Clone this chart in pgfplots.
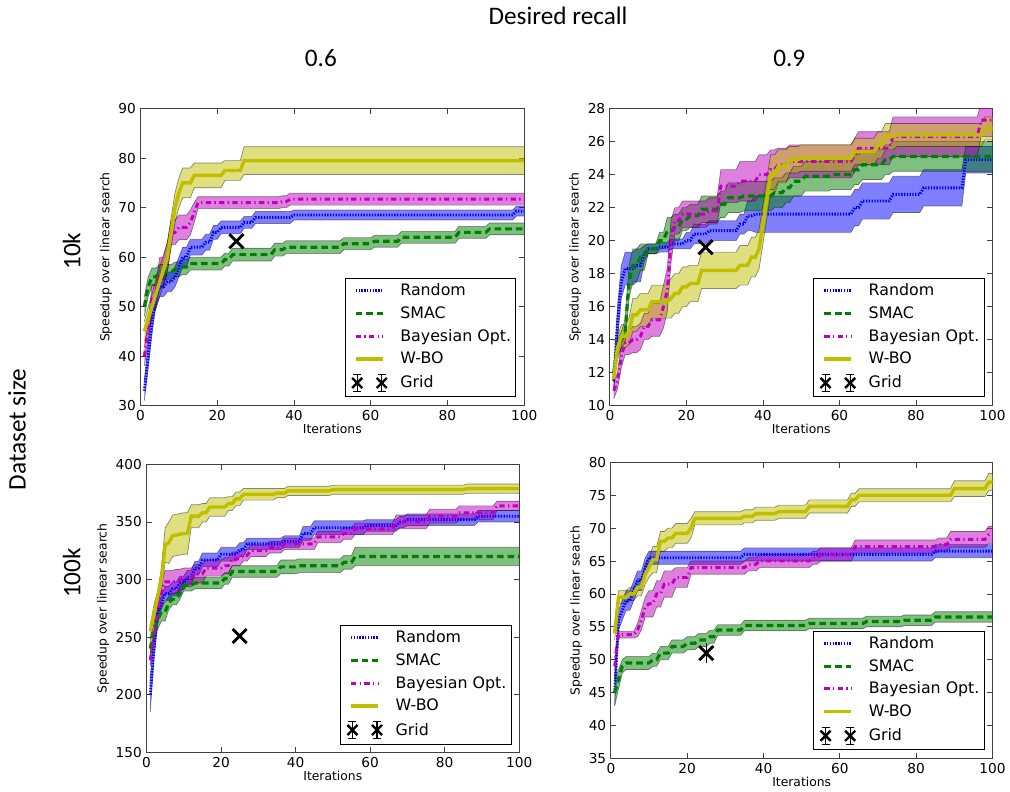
\documentclass[border=0pt]{standalone}
\usepackage{fontspec}
\setmainfont{DejaVu Sans}
\newfontfamily\calib{Carlito}
\usepackage{pgfplots}
\usepackage{pgfplotstable}
\pgfplotsset{compat=1.18}
\usepgfplotslibrary{fillbetween}

\definecolor{mb}{rgb}{0,0,1}
\definecolor{mg}{rgb}{0,0.5,0}
\definecolor{mm}{rgb}{0.75,0,0.75}
\definecolor{my}{rgb}{0.75,0.75,0}

% columns: iteration, mean speedup, half-width of the band

% ---- 10k, recall 0.6 ----
\pgfplotstableread{
x y e
1 33 2
2 40 2.5
3 47 2.5
4 52 2
5 54 2
6 54 2
7 55 2
8 55 2
9 56 2
10 58 2
11 60 2
12 60 2
13 62 1.6
16 62 1.6
17 63 1.6
18 63 1.6
19 65 1.4
20 65 1.4
21 66 1.3
26 66 1.3
27 67 1.2
29 67 1.2
30 68 1.2
39 68 1.2
40 68.5 1
97 68.5 1
98 69.3 1
100 69.3 1
}\tRA
\pgfplotstableread{
x y e
1 50 2
2 54 2
3 56 1.8
4 56 1.8
5 57 1.5
8 57 1.5
9 57.5 1.5
10 57.5 1.5
11 58 1.5
12 58 1.5
13 58.7 1.3
21 58.7 1.3
22 59.5 1.3
23 59.5 1.3
24 60.5 1.3
34 60.5 1.3
35 61.5 1.3
37 61.5 1.3
38 62 1.3
52 62 1.3
53 62.7 1.2
60 62.7 1.2
61 63.2 1.2
67 63.2 1.2
68 64 1.2
82 64 1.2
83 65 1.2
90 65 1.2
91 65.7 1.2
100 65.7 1.2
}\tSA
\pgfplotstableread{
x y e
1 40 2
2 45 2
3 52 2.5
4 52 2.5
5 57 3
6 57 3
7 60 3
8 65 2.5
9 65 2.5
10 66 2.5
12 66 2.5
13 67 2.5
14 69 2
15 71 1.2
36 71 1.2
37 71.2 1.2
38 71.2 1.2
39 71.7 1.2
100 71.7 1.2
}\tBA
\pgfplotstableread{
x y e
1 45 2
2 47.5 2.5
3 50 2.5
4 52.5 3
5 55 3
6 57.5 3
7 60 3
8 65 3
9 70 3
10 73 3
11 75 3
13 75 3
14 76.5 2.5
21 76.5 2.5
22 77.5 2
26 77.5 2
27 79.5 2.8
100 79.5 2.8
}\tWA

% ---- 10k, recall 0.9 ----
\pgfplotstableread{
x y e
1 11.5 0.5
2 15 1
3 17.5 1
4 18.3 1
6 18.3 1
7 18.5 1
8 18.5 1
9 19.2 0.5
10 19.5 0.3
12 19.5 0.3
13 19.6 0.3
15 19.6 0.3
16 19.8 0.3
19 19.8 0.3
20 20 0.5
21 20 0.5
22 20.4 0.6
25 20.4 0.6
26 20.6 0.6
33 20.6 0.6
34 21 0.6
35 21 0.6
36 21.5 0.9
37 21.5 0.9
38 21.6 1.1
63 21.6 1.1
64 22 1.1
65 22 1.1
66 22.4 1.1
73 22.4 1.1
74 22.8 1.1
81 22.8 1.1
82 23.2 1.1
92 23.2 1.1
93 24.9 0.8
100 24.9 0.8
}\tRB
\pgfplotstableread{
x y e
1 12 0.5
2 13.5 0.5
3 14 0.5
4 14.5 0.7
5 17.5 1
6 18.5 1
7 18.5 1
8 19 0.8
9 19 0.8
10 19.5 0.3
12 19.5 0.3
13 20 0.5
14 20 0.5
15 20.6 0.8
16 20.6 0.8
17 20.8 0.8
18 20.8 0.8
19 21.3 0.7
20 21.3 0.7
21 21.5 0.7
23 21.5 0.7
24 21.9 0.8
28 21.9 0.8
29 22.2 0.8
30 22.2 0.8
31 22.6 0.9
34 22.6 0.9
35 22.7 0.9
42 22.7 0.9
43 22.9 0.9
45 22.9 0.9
46 23.2 0.9
47 23.2 0.9
48 23.6 0.9
50 23.6 0.9
51 23.9 0.9
57 23.9 0.9
58 24 0.9
63 24 0.9
64 24.3 0.9
65 24.3 0.9
66 24.6 0.9
71 24.6 0.9
72 24.9 0.9
73 24.9 0.9
74 25.1 0.9
100 25.1 0.9
}\tSB
\pgfplotstableread{
x y e
1 10.9 0.5
2 11.5 0.5
3 13 0.7
4 13.8 0.7
5 13.8 0.7
6 14 0.8
7 14 0.8
8 14.2 0.8
9 14.8 0.8
10 14.8 0.8
11 15.2 1
13 15.2 1
14 16 1.3
15 17 1.3
16 20 1.3
17 21.2 0.8
18 21.2 0.8
19 21.6 0.8
25 21.6 0.8
26 21.8 0.8
28 21.8 0.8
29 23.3 1
33 23.3 1
34 23.6 1.2
38 23.6 1.2
39 24 1.2
41 24 1.2
42 24.3 1.2
43 24.3 1.2
44 24.6 1
46 24.6 1
47 24.8 1
63 24.8 1
64 25.2 1
65 25.6 1
73 25.6 1
74 26.3 1.2
96 26.3 1.2
97 27.3 1
100 27.3 1
}\tBB
\pgfplotstableread{
x y e
1 11.6 0.5
2 13.5 0.7
3 14.2 0.7
4 14.2 0.7
5 14.5 0.8
6 15.5 1
7 15.5 1
8 15.8 1
10 15.8 1
11 16.3 1
15 16.3 1
16 16.5 1.2
17 16.8 1.2
18 16.8 1.2
19 17.2 1.2
20 17.2 1.2
21 17.4 1.1
23 17.4 1.1
24 18.2 1.1
33 18.2 1.1
34 18.5 1.2
36 18.5 1.2
37 19 1.2
38 19 1.2
39 19.5 1.2
40 21 1.2
41 22.5 1.2
42 24 1.2
43 24 1.2
44 24.5 1
46 24.5 1
47 24.9 0.8
49 24.9 0.8
50 25 0.8
63 25 0.8
64 25.4 0.8
69 25.4 0.8
70 25.8 0.8
71 25.8 0.8
72 26.3 0.8
74 26.3 0.8
75 26.4 0.7
97 26.4 0.7
98 26.8 0.7
100 26.8 0.7
}\tWB

% ---- 100k, recall 0.6 ----
\pgfplotstableread{
x y e
1 200 15
2 240 10
3 270 8
4 280 6
5 288 6
6 288 6
7 292 6
8 292 6
9 297 6
10 297 6
11 302 6
12 302 6
13 310 6
14 310 6
15 317 6
19 317 6
20 322 6
24 322 6
25 326 6
26 326 6
27 331 5
36 331 5
37 333 5
41 333 5
42 340 6
44 340 6
45 345 6
58 345 6
59 347 5
67 347 5
68 350 5
69 350 5
70 352 5
88 352 5
89 355 5
100 355 5
}\tRC
\pgfplotstableread{
x y e
1 240 8
2 255 8
3 265 8
4 272 8
5 272 8
6 280 6
7 283 5
8 283 5
9 288 5
10 295 5
12 295 5
13 297 5
20 297 5
21 301 5
22 301 5
23 307 5
35 307 5
36 311 6
40 311 6
41 312 6
52 312 6
53 315 6
55 315 6
56 320 8
100 320 8
}\tSC
\pgfplotstableread{
x y e
1 230 5
2 250 5
3 270 5
4 290 8
5 298 10
7 298 10
8 299 10
9 299 10
10 302 8
12 302 8
13 305 8
15 305 8
16 310 7
20 310 7
21 312 7
22 312 7
23 318 6
25 318 6
26 321 5
27 321 5
28 325 5
32 325 5
33 328 5
36 328 5
37 331 5
45 331 5
46 337 5
52 337 5
53 340 5
55 340 5
56 344 5
66 344 5
67 350 6
75 350 6
76 355 6
83 355 6
84 358 6
93 358 6
94 364 4
100 364 4
}\tBC
\pgfplotstableread{
x y e
1 255 5
2 270 8
3 285 5
4 300 10
5 330 15
6 332 18
7 338 18
10 340 18
11 340 18
12 355 10
14 355 10
15 358 8
16 358 8
17 363 8
21 363 8
22 366 6
23 366 6
24 370 6
25 370 6
26 374 5
34 374 5
35 375 4
37 375 4
38 377 4
49 377 4
50 378 4
85 378 4
86 379 4
100 379 4
}\tWC

% ---- 100k, recall 0.9 ----
\pgfplotstableread{
x y e
1 45 2
2 56 1.5
3 57.5 1.5
4 59 1.5
5 59 1.5
6 60.5 1.5
7 62 1.5
8 62 1.5
9 64 1.5
10 65.5 1
34 65.5 1
35 66 1
84 66 1
85 66.5 1
100 66.5 1
}\tRD
\pgfplotstableread{
x y e
1 45 2
2 47 1.5
3 49 1
4 49.5 1
10 49.5 1
11 50 1
12 50 1
13 51 1
15 51 1
16 52 1
19 52 1
20 52.5 1
22 52.5 1
23 53 1
25 53 1
26 53.5 1
27 53.5 1
28 54.5 0.8
34 54.5 0.8
35 55.2 0.8
51 55.2 0.8
52 55.5 0.8
66 55.5 0.8
67 55.8 0.8
76 55.8 0.8
77 56 0.8
84 56 0.8
85 56.5 0.8
100 56.5 0.8
}\tSD
\pgfplotstableread{
x y e
1 49 2
2 53.8 0.5
6 53.8 0.5
7 54.5 1
8 56 1.5
9 58 1.5
10 58.5 2
11 58.5 2
12 60 2
13 60 2
14 61.5 2
16 61.5 2
17 62.5 1.5
20 62.5 1.5
21 64 1
35 64 1
36 64.5 1
38 64.5 1
39 65 1
52 65 1
53 65.5 1
54 65.5 1
55 66 1
63 66 1
64 67.2 1
85 67.2 1
86 67.5 1
88 67.5 1
89 68.3 1.2
98 68.3 1.2
99 69 1.3
100 69 1.3
}\tBD
\pgfplotstableread{
x y e
1 54 1
2 59.5 1
4 59.5 1
5 60 1
6 60 1
7 61 1.3
8 61 1.3
9 63 1.5
10 64 1.5
11 65.2 2
12 65.2 2
13 68 1.5
14 68 1.5
15 68.5 1.5
16 68.5 1.5
17 69.2 1.5
20 69.2 1.5
21 70 1.5
22 71.5 1
34 71.5 1
35 71.8 1
37 71.8 1
38 72.2 1
43 72.2 1
44 72.5 1
51 72.5 1
52 73.3 1
62 73.3 1
63 74.3 1
64 74.3 1
65 75 1
89 75 1
90 76 1.2
98 76 1.2
99 77 1.3
100 77 1.3
}\tWD

\pgfplotsset{
  rnd/.style={color=mb, line width=2.2pt, dash pattern=on 1pt off 1.1pt},
  smac/.style={color=mg, line width=2.4pt, dash pattern=on 5pt off 3pt},
  bay/.style={color=mm, line width=2.2pt, dash pattern=on 4pt off 2.5pt on 1pt off 2.5pt},
  wbo/.style={color=my, line width=2.6pt},
  bandedge/.style={draw=black, draw opacity=0.45, line width=0.5pt},
  panel/.style={
    scale only axis,
    xmin=0, xmax=100,
    xtick={0,20,40,60,80,100},
    tick align=inside,
    major tick length=4pt,
    axis line style={black!75, line width=0.8pt},
    tick style={black!75, line width=0.6pt},
    /pgf/number format/assume math mode=true,
    tick label style={font=\fontsize{10.3}{12}\selectfont},
    label style={font=\fontsize{9.3}{11}\selectfont},
    xlabel={Iterations},
    ylabel={Speedup over linear search},
    xlabel style={yshift=4pt},
    ylabel style={yshift=-2pt},
    legend cell align=left,
    legend style={at={(0.979,0.028)}, anchor=south east,
      font=\fontsize{11.9}{14.5}\selectfont, draw=black, line width=0.6pt,
      row sep=5.6pt, inner xsep=1.5pt, inner ysep=3.5pt,
      nodes={inner xsep=2pt, inner ysep=0.5pt}},
    legend image code/.code={\path[draw=none, fill=none] (0pt,0pt) -- (38pt,0pt);
      \draw[##1] (6.5pt,0pt) -- (27pt,0pt);},
  },
  gridmk/.style={black, only marks, mark=x, mark size=7.5pt, line width=2.2pt,
    legend image code/.code={\path[draw=none, fill=none] (0pt,0pt) -- (38pt,0pt);
      \path[draw=none, black, line width=1.8pt] plot[only marks, mark=x, mark size=5.4pt] coordinates {(7.5pt,0pt) (26pt,0pt)};
      \draw[black, line width=0.9pt] (7.5pt,-6.5pt) -- (7.5pt,6.5pt) (26pt,-6.5pt) -- (26pt,6.5pt)
        (4.5pt,6.5pt) -- (10.5pt,6.5pt) (4.5pt,-6.5pt) -- (10.5pt,-6.5pt)
        (23pt,6.5pt) -- (29pt,6.5pt) (23pt,-6.5pt) -- (29pt,-6.5pt);
    }},
}

\newcommand{\band}[3]{%
  \addplot[name path=#3u, bandedge, forget plot] table[x=x, y expr=\thisrow{y}+\thisrow{e}] {#1};
  \addplot[name path=#3l, bandedge, forget plot] table[x=x, y expr=\thisrow{y}-\thisrow{e}] {#1};
  \addplot[fill=#2, fill opacity=0.5, draw=none, forget plot] fill between[of=#3u and #3l];
}
\newcommand{\seriesset}[4]{%
  \addplot[rnd] table[x=x, y=y] {#1};
  \addlegendentry{Random}
  \addplot[smac] table[x=x, y=y] {#2};
  \addlegendentry{SMAC}
  \addplot[bay] table[x=x, y=y] {#3};
  \addlegendentry{Bayesian Opt.}
  \addplot[wbo] table[x=x, y=y] {#4};
  \addlegendentry{W-BO}
}

\begin{document}
\begin{tikzpicture}

% 10k / 0.6
\begin{axis}[panel, at={(105.75pt,289.5pt)}, anchor=south west,
  width=288.75pt, height=223.5pt, ymin=30, ymax=90, ytick={30,40,...,90}]
\band{\tWA}{my}{wa}
\band{\tBA}{mm}{ba}
\band{\tSA}{mg}{sa}
\band{\tRA}{mb}{ra}
\seriesset{\tRA}{\tSA}{\tBA}{\tWA}
\addplot[gridmk] coordinates {(25,63.2)};
\addlegendentry{Grid}
\end{axis}

% 10k / 0.9
\begin{axis}[panel, at={(459pt,289.5pt)}, anchor=south west,
  width=288pt, height=223.5pt, ymin=10, ymax=28, ytick={10,12,...,28}]
\band{\tRB}{mb}{rb}
\band{\tSB}{mg}{sb}
\band{\tBB}{mm}{bb}
\band{\tWB}{my}{wb}
\seriesset{\tRB}{\tSB}{\tBB}{\tWB}
\addplot[gridmk] coordinates {(25,19.6)};
\addlegendentry{Grid}
\end{axis}

% 100k / 0.6
\begin{axis}[panel, at={(110.25pt,28.5pt)}, anchor=south west,
  width=280.5pt, height=216.75pt, ymin=150, ymax=400, ytick={150,200,...,400}]
\band{\tWC}{my}{wc}
\band{\tSC}{mg}{sc}
\band{\tRC}{mb}{rc}
\band{\tBC}{mm}{bc}
\seriesset{\tRC}{\tSC}{\tBC}{\tWC}
\addplot[gridmk] coordinates {(25,251)};
\addlegendentry{Grid}
\end{axis}

% 100k / 0.9
\begin{axis}[panel, at={(459.75pt,24pt)}, anchor=south west,
  width=287.25pt, height=222.75pt, ymin=35, ymax=80, ytick={35,40,...,80}]
\band{\tWD}{my}{wd}
\band{\tSD}{mg}{sd}
\band{\tRD}{mb}{rd}
\band{\tBD}{mm}{bd}
\seriesset{\tRD}{\tSD}{\tBD}{\tWD}
\addplot[gridmk, error bars/.cd, y dir=both, y explicit,
  error bar style={line width=1pt}, error mark options={line width=1pt, mark size=3pt}]
  coordinates {(25,51) +- (0,0.9)};
\addlegendentry{Grid}
\end{axis}

% headings
\node[font=\calib\fontsize{19}{22}\selectfont] at (420pt,583pt) {Desired recall};
\node[font=\calib\fontsize{19}{22}\selectfont] at (241.5pt,551pt) {0.6};
\node[font=\calib\fontsize{19}{22}\selectfont] at (594pt,551pt) {0.9};
\node[font=\calib\fontsize{19}{22}\selectfont, rotate=90] at (54pt,405.75pt) {10k};
\node[font=\calib\fontsize{19}{22}\selectfont, rotate=90] at (54pt,163.5pt) {100k};
\node[font=\calib\fontsize{19}{22}\selectfont, rotate=90] at (12.75pt,271.5pt) {Dataset size};
\path (0pt,0pt) rectangle (757.5pt,594.75pt);
\end{tikzpicture}
\end{document}
